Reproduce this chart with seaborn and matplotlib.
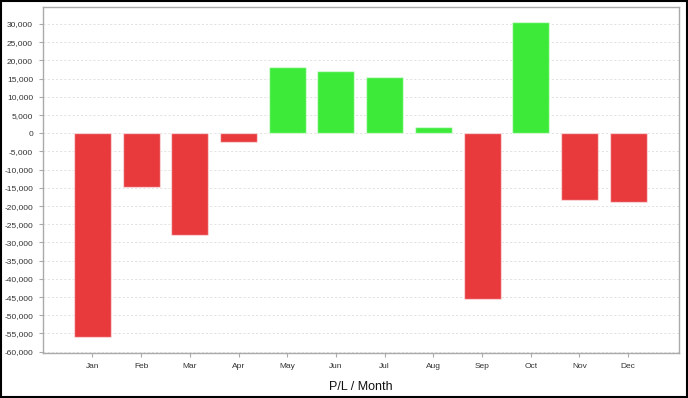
import matplotlib
matplotlib.use("Agg")
import matplotlib.pyplot as plt
import matplotlib.ticker as mticker
import seaborn as sns
import pandas as pd

months = ["Jan", "Feb", "Mar", "Apr", "May", "Jun", "Jul", "Aug", "Sep", "Oct", "Nov", "Dec"]
pl_values = [-55900, -14700, -28000, -2400, 18300, 17000, 15500, 1700, -45400, 30500, -18400, -19000]
y_ticks = list(range(-60000, 30001, 5000))
x_label = "P/L / Month"

df = pd.DataFrame({"month": months, "pl": pl_values})
df["sign"] = ["pos" if v >= 0 else "neg" for v in pl_values]

sns.set_style("white")
plt.rcParams["font.family"] = ["Liberation Sans", "DejaVu Sans"]

fig = plt.figure(figsize=(6.88, 3.98), dpi=100)
ax = fig.add_axes([0.0621, 0.1123, 0.9874 - 0.0621, 0.9817 - 0.1123])

palette = {"pos": "#3DEA3A", "neg": "#E8393D"}
sns.barplot(data=df, x="month", y="pl", hue="sign", palette=palette, dodge=False,
            width=0.76, legend=False, ax=ax, saturation=1,
            edgecolor=(1, 1, 1, 0.55), linewidth=1.0, zorder=3)

ax.set_xlim(-1.02, 12.05)
ax.set_ylim(-60440, 34600)
ax.set_yticks(y_ticks)
ax.yaxis.set_major_formatter(mticker.FuncFormatter(lambda v, p: f"{int(v):,}"))
ax.grid(axis="y", color="#dddddd", linestyle=(0, (2.5, 2.5)), linewidth=0.6, zorder=0)
ax.set_axisbelow(True)
for s in ax.spines.values():
    s.set_color("#aaaaaa")
    s.set_linewidth(1.0)
ax.tick_params(axis="both", labelsize=6, colors="#aaaaaa", labelcolor="#333333",
               length=3, width=0.8, direction="out", left=True, bottom=True, pad=4)
ax.set_xlabel(x_label, fontsize=9, color="#111111", labelpad=8)
ax.set_ylabel("")

# outer black border
fig.patches.append(plt.Rectangle((0.0015, 0.0025), 0.997, 0.995, transform=fig.transFigure,
                                 fill=False, edgecolor="black", linewidth=1.5))

fig.savefig("out.png", dpi=100)
